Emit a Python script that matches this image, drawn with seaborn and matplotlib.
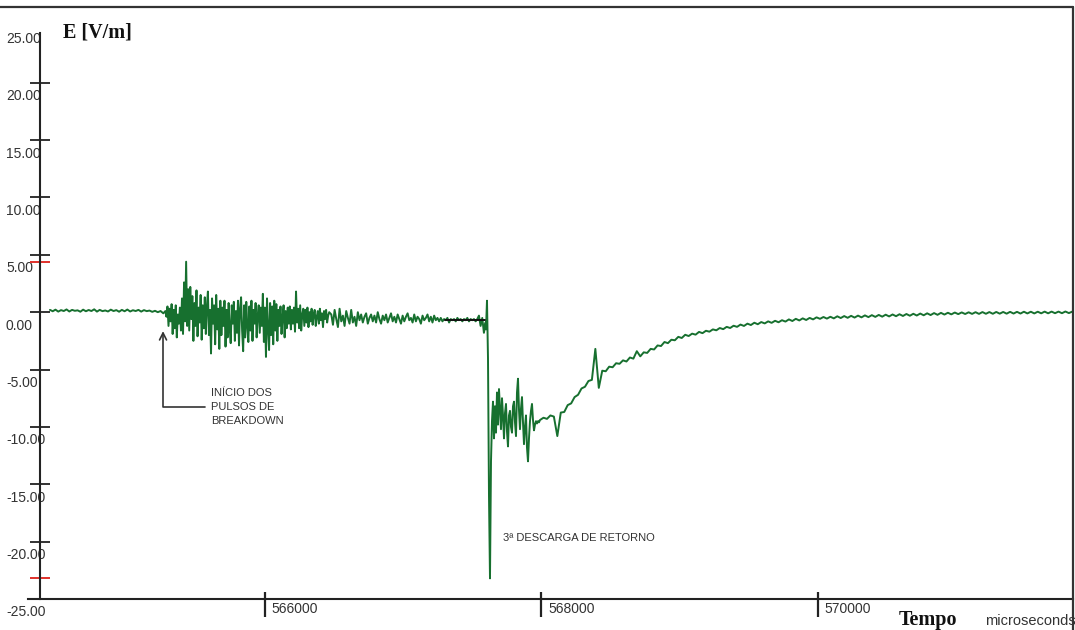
import numpy as np
import pandas as pd
import matplotlib
matplotlib.use('Agg')
import matplotlib.pyplot as plt
import seaborn as sns
from matplotlib.transforms import ScaledTranslation
from matplotlib.lines import Line2D
from matplotlib.ticker import FixedLocator

# ---------------- data (time in microseconds, field in V/m) ----------------
# Each recorded segment: first sample time, sampling step, and the read values.
pre_start, pre_step = 564445, 20
pre_e = [0.2, 0.08, 0.22, 0.05, 0.18, 0.1, 0.24, 0.06, 0.2, 0.12,
         0.16, 0.04, 0.22, 0.08, 0.19, 0.1, 0.25, 0.05, 0.2, 0.09,
         0.15, 0.06, 0.22, 0.1, 0.18, 0.04, 0.2, 0.08, 0.23, 0.06,
         0.17, 0.1, 0.2, 0.05, 0.18, 0.09, 0.14, 0.03, 0.12, 0.0,
         0.1, -0.1]

breakdown_start, breakdown_step = 565280, 7.5
breakdown_e = [0.1, -0.4, 0.5, -1.2, 0.3, -0.8, 0.7, -1.9, 0.2, -1.4, 0.6, -2.2, -0.2, -1.0, 0.4, -1.6,
               1.2, -1.9, 2.6, -0.8, 4.4, -1.2, 2.0,
               -1.6, 2.2, -0.6, 1.4, -2.5, 0.8, -1.2, 1.9, -2.1, 0.4, -0.9, 1.5, -2.4, 0.6, -1.4, 1.3, -1.9,
               0.5, 1.8, -2.0, 0.2, -3.6, 1.2, -1.0, 0.6, -2.8, 1.5, -1.5, 0.3, -3.2, 1.0, -2.0,
               0.4, -1.2, 1.0, -3.0, 0.2, -2.2, 0.8, -1.4, -2.7, 0.6, -1.0, 0.9, -2.5, 0.1, -1.8, 1.0, -2.9,
               0.3, 1.3, -1.6, -3.4, 0.6, -2.2, 0.9, -1.2, -2.6,
               0.5, -1.6, 1.0, -2.5, 0.2, -1.0, 0.8, -2.2, -0.3, 0.6, -1.8, 0.4, -1.2,
               1.6, -2.6, 0.4, -3.9, 1.2, -1.4, -3.3, 0.8, -2.0, 0.5, -2.8, 1.0, -1.6,
               0.7, -2.5, 0.2, -1.2, 0.5, -1.9, -0.4, 0.6, -2.2, 0.1, -1.4, 0.4, -1.0,
               0.5, -1.5, 0.2, -1.0, 0.4, -1.7, 1.8, -0.9, 0.3, -1.4, 0.6, -1.6, -0.2, 0.3, -1.2, 0.2, -0.9,
               0.4, -1.3, 0.0, -0.8, 0.3, -1.1, -0.2, 0.2, -1.2, -0.4, 0.1, -1.0, 0.3, -0.7, -0.1, -1.3,
               0.1, -0.6, 0.2, -0.9, -0.3, 0.0]

quiet_start, quiet_step = 566480, 12
quiet_e = [-0.2, -1.1, 0.2, -0.6, -1.3, 0.3, -0.8, -0.3, -1.2, 0.1, -0.5, -1.0, 0.2, -0.9, -0.4, -1.2, 0.0, -0.7,
           -0.2, -0.9, -0.4, -0.1, -1.0, -0.5, -0.2, -0.8, -0.3, -0.9, 0.0, -0.6, -1.0, -0.3, -0.7, -0.2,
           -0.9, -0.5, -0.1, -0.8, -0.4, -0.9, -0.2, -0.6, -1.0, -0.3, -0.8, -0.4, -0.1, -0.7, -0.5, -0.9,
           -0.2, -0.8, -0.4, -0.6, -1.0, -0.3, -0.7, -0.5, -0.2, -0.8, -0.4, -0.9, -0.3, -0.7, -0.5, -0.8,
           -0.5, -0.8, -0.6, -0.7, -0.5, -0.9, -0.6, -0.7, -0.6, -0.8, -0.5, -0.7, -0.6, -0.8, -0.6, -0.7,
           -0.5, -0.8, -0.6, -0.7, -0.6, -0.8, -0.6,
           -0.3, -1.2, -0.5, -1.8, -0.9]

stroke_start, stroke_step = 567599, 7.233
stroke_e = [-1.5, 1.0, -4.0, -16.0, -23.2, -13.0, -9.5, -7.8, -11.0, -8.2,
            -10.5, -7.0, -9.8, -6.7, -8.5, -10.2, -7.5, -9.0, -11.0, -8.8,
            -8.0, -10.4, -11.7, -9.0, -8.6, -10.0, -10.5, -8.2, -7.8, -9.6,
            -10.8, -7.0, -5.8, -8.5, -10.2, -8.4, -7.4, -9.6, -11.5, -10.0,
            -9.0, -11.8, -13.0, -11.0, -9.5, -8.6, -8.0, -9.4, -10.3, -9.8,
            -9.5, -9.7, -9.5, -9.6, -9.4]

decay_start, decay_step = 568015, 25
decay_e = [-9.2, -9.3, -9.0, -9.1, -10.8, -8.75, -8.7, -8.1, -7.95, -7.4,
           -7.2, -6.65, -6.5, -6.0, -5.9, -3.2, -6.6, -5.1, -5.15, -4.75,
           -4.8, -4.45, -4.5, -4.2, -4.3, -3.95, -4.05, -3.4, -3.85, -3.5,
           -3.55, -3.2, -3.25, -2.9, -2.95, -2.6, -2.7, -2.4, -2.45, -2.15,
           -2.25, -1.97, -2.08, -1.87, -1.96, -1.72, -1.83, -1.62, -1.7, -1.5,
           -1.58, -1.38, -1.48, -1.28, -1.38, -1.18, -1.28, -1.08, -1.2, -1.0,
           -1.12, -0.92, -1.05, -0.86, -0.98, -0.8, -0.93, -0.75, -0.88, -0.7,
           -0.82, -0.63, -0.77, -0.58, -0.72, -0.54, -0.68, -0.5, -0.63, -0.45,
           -0.58, -0.42, -0.56, -0.4, -0.54, -0.36, -0.51, -0.34, -0.49, -0.32,
           -0.47, -0.3, -0.45, -0.28, -0.43, -0.26, -0.41, -0.24, -0.39, -0.22,
           -0.37, -0.2, -0.35, -0.18, -0.33, -0.16, -0.31, -0.14, -0.29, -0.12,
           -0.27, -0.1, -0.25, -0.08, -0.23, -0.06, -0.21, -0.05, -0.19, -0.03,
           -0.17, -0.02, -0.16, -0.01, -0.15, 0.0, -0.15, 0.01, -0.14, 0.01,
           -0.14, 0.02, -0.13, 0.02, -0.13, 0.03, -0.12, 0.03, -0.12, 0.04,
           -0.11, 0.04, -0.11, 0.04, -0.1, 0.05, -0.1, 0.05, -0.09, 0.05,
           -0.09, 0.06, -0.08, 0.05]

cursor_t = [567302, 567592]
cursor_e = [-0.7, -0.7]

y_ticks = [-25, -20, -15, -10, -5, 0, 5, 10, 15, 20, 25]
x_ticks = [566000, 568000, 570000]
x_range = (564373, 571845)
y_range = (-25, 26.6)


def sample_times(start, step, values):
    return start + step * np.arange(len(values))


# ---------------- figure ----------------
sns.set_style('white')
plt.rcParams['font.family'] = ['Liberation Sans', 'DejaVu Sans']

W, H = 1075, 630
PT = 72 / 100  # points per pixel at 100 dpi
fig = plt.figure(figsize=(W / 100, H / 100), dpi=100)
fig.patch.set_facecolor('white')
ax = fig.add_axes([40 / W, (H - 599) / H, (1073 - 40) / W, (599 - 7) / H])
ax.set_facecolor('white')

segments = [(pre_start, pre_step, pre_e), (breakdown_start, breakdown_step, breakdown_e),
            (quiet_start, quiet_step, quiet_e), (stroke_start, stroke_step, stroke_e),
            (decay_start, decay_step, decay_e)]
df = pd.DataFrame({
    't': np.concatenate([sample_times(s, d, v) for s, d, v in segments]),
    'E': np.concatenate([v for _, _, v in segments]),
})
GREEN = '#17702f'
sns.lineplot(data=df, x='t', y='E', sort=False, estimator=None, color=GREEN,
             lw=1.4, ax=ax)
sns.lineplot(x=cursor_t, y=cursor_e, sort=False, estimator=None, color='#111111',
             lw=1.4, ax=ax)

ax.set_xlim(*x_range)
ax.set_ylim(*y_range)
ax.set_xlabel('')
ax.set_ylabel('')

ax.set_yticks(y_ticks)
ax.set_yticklabels([f"{v:.2f}" for v in y_ticks])
ax.set_xticks(x_ticks)
ax.set_xticklabels([str(v) for v in x_ticks])
# short inner stubs of the x ticks
ax.xaxis.remove_overlapping_locs = False
ax.xaxis.set_minor_locator(FixedLocator(x_ticks))

for s in ['top', 'right']:
    ax.spines[s].set_visible(False)
for s in ['left', 'bottom']:
    ax.spines[s].set_color('#222222')
    ax.spines[s].set_linewidth(1.5)
ax.spines['left'].set_bounds(-25, 24.35)
ax.spines['bottom'].set_bounds(564286, x_range[1])

ax.tick_params(axis='y', left=True, direction='inout', length=20 * PT, width=1.3,
               colors='#222222', pad=0, labelsize=10, labelcolor='#333333')
ax.tick_params(axis='x', which='major', bottom=True, direction='out', length=18 * PT,
               width=1.6, colors='#222222', pad=0, labelsize=10, labelcolor='#333333')
ax.tick_params(axis='x', which='minor', bottom=True, direction='in', length=7 * PT,
               width=1.6, colors='#222222')

ax.yaxis.get_major_ticks()[-1].tick1line.set_visible(False)

for lab in ax.get_yticklabels():
    lab.set_ha('left')
    lab.set_transform(lab.get_transform() + ScaledTranslation(-24 / 100, -12 / 100, fig.dpi_scale_trans))
for lab in ax.get_xticklabels():
    lab.set_ha('left')
    lab.set_transform(lab.get_transform() + ScaledTranslation(7 / 100, 15 / 100, fig.dpi_scale_trans))

# red max/min markers on the y axis
e_all = df['E']
ax.plot([x_range[0], x_range[0]], [e_all.max(), e_all.min()], ls='none', marker='_',
        ms=20 * PT, mew=1.4, color='#e0302a', clip_on=False)

# annotations
ax.annotate('', xy=(565263, -1.65), xytext=(565566, -8.26),
            arrowprops=dict(arrowstyle='->,head_length=0.5,head_width=0.25', color='#333333',
                            lw=1.2, shrinkA=0, shrinkB=0,
                            connectionstyle='angle,angleA=180,angleB=90,rad=0'))
ax.text(565610, -8.26, 'INÍCIO DOS\nPULSOS DE\nBREAKDOWN', ha='left', va='center',
        fontsize=8, linespacing=1.45, color='#333333')
ax.text(567722, -19.7, '3ª DESCARGA DE RETORNO', ha='left', va='center',
        fontsize=8, color='#333333')

# titles
fig.text(63 / W, 1 - 32 / H, 'E [V/m]', family='Liberation Serif', weight='bold',
         fontsize=14.5, ha='left', va='center', color='#111111')
fig.text(899 / W, 1 - 620 / H, 'Tempo', family='Liberation Serif', weight='bold',
         fontsize=14.5, ha='left', va='center', color='#111111')
fig.text(985 / W, 1 - 621 / H, 'microseconds', fontsize=10.5, ha='left', va='center',
         color='#333333')

# outer frame (top and right)
fig.add_artist(Line2D([0, 1073 / W], [1 - 7 / H, 1 - 7 / H], color='#333333', lw=1.6,
                      transform=fig.transFigure))
fig.add_artist(Line2D([1073 / W, 1073 / W], [1 - 7 / H, 0], color='#333333', lw=1.6,
                      transform=fig.transFigure))

fig.savefig('out.png', dpi=100, facecolor='white')
